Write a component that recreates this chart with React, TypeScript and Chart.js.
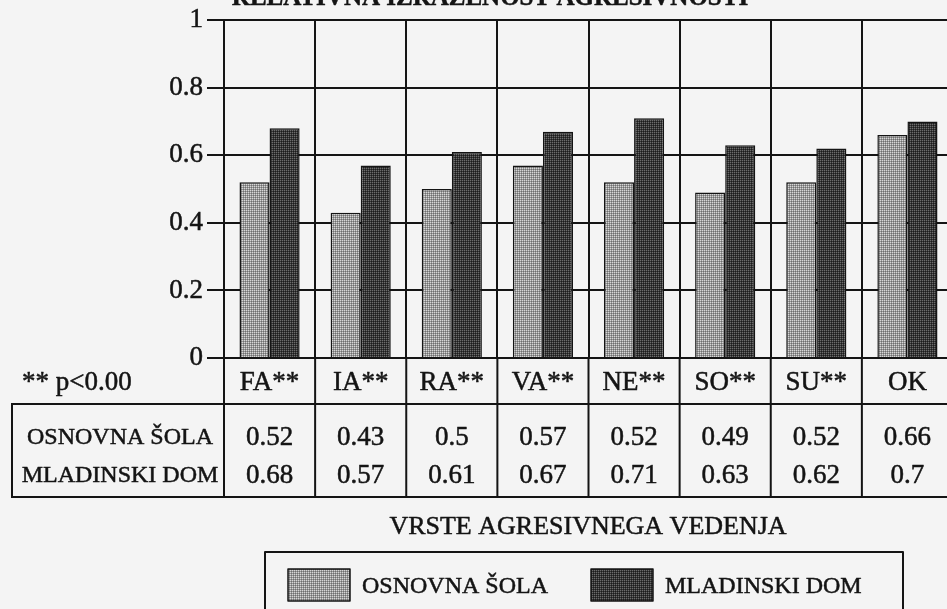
import React, { useEffect, useRef } from "react";
import { Chart, registerables } from "chart.js";

Chart.register(...registerables);

const TITLE = "RELATIVNA IZRAŽENOST AGRESIVNOSTI";
const CATEGORIES = ["FA**", "IA**", "RA**", "VA**", "NE**", "SO**", "SU**", "OK"];
const SERIES_NAMES = ["OSNOVNA ŠOLA", "MLADINSKI DOM"];
const OSNOVNA_SOLA = [0.52, 0.43, 0.5, 0.57, 0.52, 0.49, 0.52, 0.66];
const MLADINSKI_DOM = [0.68, 0.57, 0.61, 0.67, 0.71, 0.63, 0.62, 0.7];
const Y_TICKS = [0, 0.2, 0.4, 0.6, 0.8, 1];
const NOTE = "** p<0.00";
const X_TITLE = "VRSTE AGRESIVNEGA VEDENJA";

const SERIF = '"Liberation Serif", "Times New Roman", Times, serif';
const BG = "#f4f4f4";
const INK = "#141414";

function makePattern(base: string, mid: string, dot: string): CanvasPattern | string {
  const c = document.createElement("canvas");
  c.width = 2;
  c.height = 2;
  const g = c.getContext("2d");
  if (!g) return base;
  g.fillStyle = base;
  g.fillRect(0, 0, 2, 2);
  g.fillStyle = mid;
  g.fillRect(1, 0, 1, 1);
  g.fillRect(0, 1, 1, 1);
  g.fillStyle = dot;
  g.fillRect(0, 0, 1, 1);
  const p = g.createPattern(c, "repeat");
  return p || base;
}

function txt(ctx: CanvasRenderingContext2D, s: string, x: number, y: number) {
  ctx.fillText(s, x, y);
  ctx.strokeText(s, x, y);
}

export default function App() {
  const ref = useRef<HTMLCanvasElement | null>(null);

  useEffect(() => {
    if (!ref.current) return;
    const light = makePattern("#6e6e6e", "#989898", "#d6d6d6");
    const dark = makePattern("#1c1c1c", "#363636", "#6c6c6c");

    const decor = {
      id: "decor",
      beforeDraw(chart: any) {
        const ctx = chart.ctx;
        ctx.save();
        ctx.fillStyle = BG;
        ctx.fillRect(0, 0, chart.width, chart.height);
        ctx.restore();
      },
      afterDraw(chart: any) {
        const ctx = chart.ctx as CanvasRenderingContext2D;
        const xs = chart.scales.x;
        const area = chart.chartArea;
        const n = CATEGORIES.length;
        const w = (area.right - area.left) / n;
        ctx.save();
        ctx.fillStyle = INK;
        ctx.strokeStyle = INK;
        ctx.lineJoin = "round";

        // title (cut at top)
        ctx.lineWidth = 0.5;
        ctx.font = `bold 25px ${SERIF}`;
        ctx.textAlign = "center";
        ctx.textBaseline = "alphabetic";
        txt(ctx, TITLE, 490, 5);

        // category row
        ctx.font = `27px ${SERIF}`;
        ctx.textBaseline = "middle";
        CATEGORIES.forEach((c, i) => {
          txt(ctx, c, xs.getPixelForValue(i), 383);
        });
        ctx.textAlign = "left";
        ctx.font = `27px ${SERIF}`;
        txt(ctx, NOTE, 22, 383);

        // table lines
        const top = 404;
        const bottom = 497;
        ctx.lineWidth = 2;
        ctx.beginPath();
        ctx.moveTo(12, top);
        ctx.lineTo(chart.width, top);
        ctx.moveTo(12, bottom);
        ctx.lineTo(chart.width, bottom);
        ctx.moveTo(12, top - 1);
        ctx.lineTo(12, bottom + 1);
        for (let i = 0; i <= n; i++) {
          const x = area.left + i * w;
          ctx.moveTo(x, area.bottom);
          ctx.lineTo(x, bottom);
        }
        ctx.stroke();

        // row labels and values
        ctx.lineWidth = 0.5;
        const rows = [OSNOVNA_SOLA, MLADINSKI_DOM];
        const rowY = [438, 476];
        rows.forEach((vals, r) => {
          ctx.textAlign = "center";
          ctx.font = `24px ${SERIF}`;
          txt(ctx, SERIES_NAMES[r], 120, rowY[r]);
          ctx.font = `27px ${SERIF}`;
          vals.forEach((v, i) => {
            txt(ctx, String(v), xs.getPixelForValue(i), rowY[r]);
          });
        });

        // x title
        ctx.font = `26px ${SERIF}`;
        ctx.textAlign = "center";
        txt(ctx, X_TITLE, 588, 527);

        // legend
        ctx.lineWidth = 2;
        ctx.strokeRect(265, 552, 638, 80);
        const sw = [
          { x: 288, fill: light, label: SERIES_NAMES[0], tx: 362 },
          { x: 591, fill: dark, label: SERIES_NAMES[1], tx: 665 },
        ];
        sw.forEach((s) => {
          ctx.fillStyle = s.fill as any;
          ctx.fillRect(s.x, 569, 62, 32);
          ctx.lineWidth = 1.5;
          ctx.strokeRect(s.x, 569, 62, 32);
          ctx.fillStyle = INK;
          ctx.lineWidth = 0.5;
          ctx.font = `24px ${SERIF}`;
          ctx.textAlign = "left";
          txt(ctx, s.label, s.tx, 587);
        });
        ctx.restore();
      },
    };

    const chart = new Chart(ref.current, {
      type: "bar",
      data: {
        labels: CATEGORIES,
        datasets: [
          {
            label: SERIES_NAMES[0],
            data: OSNOVNA_SOLA,
            backgroundColor: light as any,
            borderColor: INK,
            borderWidth: 1.5,
          },
          {
            label: SERIES_NAMES[1],
            data: MLADINSKI_DOM,
            backgroundColor: dark as any,
            borderColor: INK,
            borderWidth: 1.5,
          },
        ],
      },
      plugins: [decor],
      options: {
        animation: false,
        responsive: false,
        maintainAspectRatio: false,
        devicePixelRatio: 1,
        layout: { padding: { left: 0, top: 16, right: 1010 - 953, bottom: 609 - 358 } },
        plugins: {
          legend: { display: false },
          title: { display: false },
          tooltip: { enabled: false },
        },
        datasets: {
          bar: { categoryPercentage: 0.66, barPercentage: 1 },
        },
        scales: {
          x: {
            offset: true,
            ticks: { display: false },
            grid: { color: INK, lineWidth: 2, offset: true, drawTicks: false },
            border: { color: INK, width: 2 },
            afterFit: (s: any) => {
              s.height = 0;
            },
          },
          y: {
            min: 0,
            max: 1,
            afterBuildTicks: (s: any) => {
              s.ticks = Y_TICKS.map((v) => ({ value: v }));
            },
            ticks: {
              color: INK,
              font: { family: SERIF, size: 27 },
              padding: 4,
              textStrokeColor: INK,
              textStrokeWidth: 0.5,
              callback: (v: any) => String(v),
            },
            grid: { color: INK, lineWidth: 2, tickLength: 17 },
            border: { color: INK, width: 2 },
            afterFit: (s: any) => {
              s.width = 224;
            },
          },
        },
      },
    });
    return () => chart.destroy();
  }, []);

  return (
    <div
      style={{
        position: "fixed",
        left: 0,
        top: 0,
        width: 947,
        height: 609,
        overflow: "hidden",
        background: BG,
      }}
    >
      <canvas ref={ref} width={1010} height={609} style={{ display: "block", width: 1010, height: 609 }} />
    </div>
  );
}
